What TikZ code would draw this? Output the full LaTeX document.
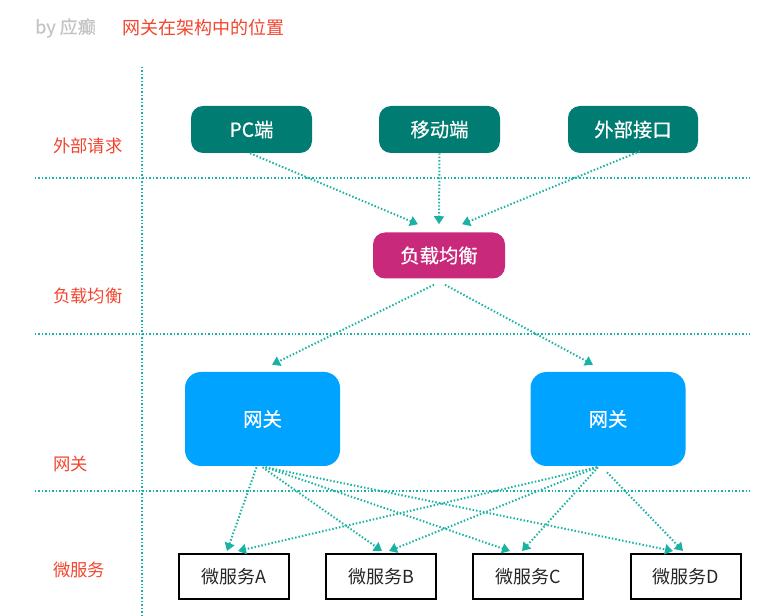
\documentclass[tikz,border=0pt]{standalone}
\usepackage{fontspec}
\setmainfont{Noto Sans CJK SC}
\newfontfamily\boxfont[FakeBold=0.5]{Noto Sans CJK SC}
\usetikzlibrary{arrows.meta,calc}
\definecolor{tealbox}{HTML}{007C72}
\definecolor{magbox}{HTML}{C8297A}
\definecolor{bluebox}{HTML}{00A3FF}
\definecolor{dotline}{HTML}{1AB3A3}
\definecolor{redlab}{HTML}{F2452F}
\definecolor{graytitle}{HTML}{C4C4C4}
\tikzset{
  sep/.style={dotline, line width=1.5pt, dash pattern=on 1.1pt off 1.5pt},
  conn/.style={dotline, line width=1.5pt, dash pattern=on 1.1pt off 1.5pt, -{Triangle[width=7.5pt,length=6pt]}},
  topbox/.style={fill=tealbox, text=white, rounded corners=9pt, inner sep=0pt, minimum height=47*0.75pt, font=\boxfont\fontsize{14.5pt}{16pt}\selectfont},
  lbbox/.style={fill=magbox, text=white, rounded corners=9pt, inner sep=0pt, minimum width=132*0.75pt, minimum height=46*0.75pt, font=\boxfont\fontsize{14.5pt}{16pt}\selectfont},
  gwbox/.style={fill=bluebox, text=white, rounded corners=12pt, inner sep=0pt, minimum width=155*0.75pt, minimum height=94*0.75pt, font=\boxfont\fontsize{14.5pt}{16pt}\selectfont},
  msbox/.style={draw=black, line width=1.5pt, fill=white, text=black!85, inner sep=0pt, minimum width=110*0.75pt, minimum height=45*0.75pt, font=\fontsize{13.5pt}{15pt}\selectfont},
  layerlab/.style={text=redlab, anchor=west, inner sep=0pt, font=\fontsize{13pt}{15pt}\selectfont},
}
\begin{document}
\begin{tikzpicture}[x=0.75pt,y=-0.75pt]
\useasboundingbox (0,0) rectangle (782,616);
% title
\node[anchor=west, inner sep=0pt, text=graytitle, font=\boxfont\fontsize{13.5pt}{15pt}\selectfont] (by) at (35,28) {by 应癫};
\node[anchor=west, inner sep=0pt, text=redlab, font=\fontsize{13.5pt}{15pt}\selectfont] (title) at (122,28) {网关在架构中的位置};
% separators
\coordinate (vt) at (142,67);
\coordinate (vb) at (142,616);
\draw[sep] (vt) -- (vb);
\coordinate (h1l) at (35,178); \coordinate (h1r) at (750,178);
\coordinate (h2l) at (35,334); \coordinate (h2r) at (750,334);
\coordinate (h3l) at (35,491); \coordinate (h3r) at (750,491);
\draw[sep] (h1l) -- (h1r);
\draw[sep] (h2l) -- (h2r);
\draw[sep] (h3l) -- (h3r);
% layer labels
\node[layerlab] (l1) at (53,146) {外部请求};
\node[layerlab] (l2) at (53,296) {负载均衡};
\node[layerlab] (l3) at (53,464) {网关};
\node[layerlab] (l4) at (53,570) {微服务};
% nodes
\node[topbox, minimum width=121*0.75pt] (pc) at (251.5,129.5) {PC端};
\node[topbox, minimum width=121*0.75pt] (mob) at (439.5,129.5) {移动端};
\node[topbox, minimum width=130*0.75pt] (ext) at (633,129.5) {外部接口};
\node[lbbox] (lb) at (439,255.5) {负载均衡};
\node[gwbox] (gwL) at (262.5,419) {网关};
\node[gwbox] (gwR) at (608,419) {网关};
\node[msbox] (A) at (234,576.5) {微服务A};
\node[msbox] (B) at (381,576.5) {微服务B};
\node[msbox] (C) at (528,576.5) {微服务C};
\node[msbox] (D) at (686,576.5) {微服务D};
% connectors to load balancer
\draw[conn] ($(pc.south)+(-1.5,0)$) -- ($(lb.north)+(-21,-8)$);
\draw[conn] (mob.south) -- ($(lb.north)+(0,-8)$);
\draw[conn] ($(ext.south)+(7,-2)$) -- ($(lb.north)+(23,-8)$);
% load balancer to gateways
\draw[conn] ($(lb.south)+(-5,6)$) -- ($(gwL.north)+(9.5,-7)$);
\draw[conn] ($(lb.south)+(6,6)$) -- ($(gwR.north)+(-15,-7)$);
% left gateway to services
\draw[conn] ($(gwL.south)+(-6,1)$) -- ($(A.north)+(-7,-2)$);
\draw[conn] ($(gwL.south)+(0,1)$) -- ($(B.north)+(1,-2)$);
\draw[conn] ($(gwL.south)+(3,1)$) -- ($(C.north)+(-18,-2)$);
\draw[conn] ($(gwL.south)+(3,1)$) -- ($(D.north)+(-13,-2)$);
% right gateway to services
\draw[conn] ($(gwR.south)+(-11,1)$) -- ($(A.north)+(4,-2)$);
\draw[conn] ($(gwR.south)+(-11,1)$) -- ($(B.north)+(8,-2)$);
\draw[conn] ($(gwR.south)+(-10,1)$) -- ($(C.north)+(-6,-2)$);
\draw[conn] ($(gwR.south)+(-1,6)$) -- ($(D.north)+(-3,-2)$);
\end{tikzpicture}
\end{document}
